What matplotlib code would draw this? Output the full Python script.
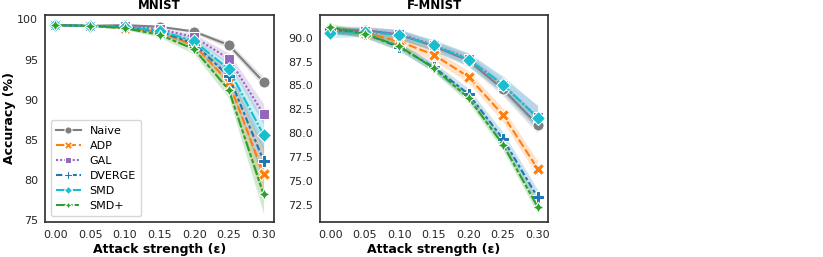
import numpy as np
import matplotlib.pyplot as plt

eps = [0.00, 0.05, 0.10, 0.15, 0.20, 0.25, 0.30]
methods = ['Naive', 'ADP', 'GAL', 'DVERGE', 'SMD', 'SMD+']

# MNIST mean accuracy (%) and CI half-width
mnist_naive = [99.3, 99.2, 99.3, 99.1, 98.5, 96.8, 92.2]
mnist_adp = [99.3, 99.2, 99.0, 98.4, 96.8, 92.2, 80.7]
mnist_gal = [99.3, 99.2, 99.2, 98.8, 97.8, 95.1, 88.2]
mnist_dverge = [99.3, 99.2, 99.1, 98.5, 97.0, 92.9, 82.4]
mnist_smd = [99.3, 99.2, 99.1, 98.6, 97.3, 93.8, 85.6]
mnist_smdp = [99.3, 99.2, 98.9, 98.1, 96.3, 91.2, 78.2]

mnist_naive_ci = [0.05, 0.05, 0.1, 0.1, 0.2, 0.4, 0.6]
mnist_adp_ci = [0.05, 0.1, 0.15, 0.2, 0.4, 1.2, 3.4]
mnist_gal_ci = [0.05, 0.05, 0.1, 0.2, 0.4, 0.7, 1.3]
mnist_dverge_ci = [0.05, 0.05, 0.1, 0.2, 0.4, 0.9, 2.5]
mnist_smd_ci = [0.05, 0.05, 0.1, 0.2, 0.4, 0.8, 2.0]
mnist_smdp_ci = [0.05, 0.05, 0.15, 0.3, 0.6, 1.0, 2.4]

# F-MNIST
fmnist_naive = [90.8, 90.8, 90.3, 89.1, 87.6, 84.6, 80.9]
fmnist_adp = [90.8, 90.5, 89.6, 88.2, 85.9, 81.9, 76.3]
fmnist_gal = [90.7, 90.7, 90.4, 89.2, 87.8, 85.0, 81.7]
fmnist_dverge = [90.9, 90.4, 89.0, 86.9, 84.1, 79.4, 73.3]
fmnist_smd = [90.5, 90.6, 90.3, 89.2, 87.7, 85.1, 81.6]
fmnist_smdp = [91.1, 90.4, 89.1, 86.8, 83.7, 78.8, 72.3]

fmnist_naive_ci = [0.4, 0.4, 0.5, 0.5, 0.6, 0.7, 0.9]
fmnist_adp_ci = [0.4, 0.4, 0.5, 0.6, 0.6, 0.7, 0.8]
fmnist_gal_ci = [0.4, 0.4, 0.5, 0.5, 0.6, 0.8, 1.2]
fmnist_dverge_ci = [0.4, 0.4, 0.4, 0.5, 0.6, 0.7, 0.8]
fmnist_smd_ci = [0.5, 0.5, 0.5, 0.6, 0.7, 0.9, 1.3]
fmnist_smdp_ci = [0.4, 0.4, 0.4, 0.4, 0.5, 0.6, 0.7]

colors = ['#7f7f7f', '#ff7f0e', '#9467bd', '#1f77b4', '#17becf', '#2ca02c']
markers = ['o', 'X', 's', 'P', 'D', (4, 1, 0)]
dashes = [(), (4, 1.5), (1, 1), (3, 1.25, 1.5, 1.25), (5, 1, 1, 1), (5, 1, 2, 1, 2, 1)]
msizes = [8, 8.5, 6.5, 9, 7, 8]

mnist = [(mnist_naive, mnist_naive_ci), (mnist_adp, mnist_adp_ci), (mnist_gal, mnist_gal_ci),
         (mnist_dverge, mnist_dverge_ci), (mnist_smd, mnist_smd_ci), (mnist_smdp, mnist_smdp_ci)]
fmnist = [(fmnist_naive, fmnist_naive_ci), (fmnist_adp, fmnist_adp_ci), (fmnist_gal, fmnist_gal_ci),
          (fmnist_dverge, fmnist_dverge_ci), (fmnist_smd, fmnist_smd_ci), (fmnist_smdp, fmnist_smdp_ci)]

plt.rcParams['font.family'] = 'DejaVu Sans'
fig = plt.figure(figsize=(8.23, 2.57), dpi=100)
ax1 = fig.add_axes([45 / 823, 35 / 257, 229 / 823, 207 / 257])
ax2 = fig.add_axes([320 / 823, 35 / 257, 228 / 823, 207 / 257])


def draw(ax, data, title):
    x = np.array(eps)
    for (m, ci), name, c, mk, d, ms in zip(data, methods, colors, markers, dashes, msizes):
        m = np.array(m)
        ci = np.array(ci)
        ax.fill_between(x, m - ci, m + ci, color=c, alpha=0.22, linewidth=0)
        line, = ax.plot(x, m, color=c, marker=mk, markersize=ms, markeredgecolor='white',
                        markeredgewidth=0.75, linewidth=1.5, label=name)
        if d:
            line.set_dashes(d)
    ax.set_xticks(eps)
    ax.set_xticklabels([f'{e:.2f}' for e in eps])
    ax.set_xlim(-0.015, 0.315)
    ax.tick_params(axis='x', length=0, labelsize=8, pad=6, colors='#262626')
    ax.tick_params(axis='y', length=0, labelsize=8, pad=5, colors='#262626')
    for s in ax.spines.values():
        s.set_color('#333333')
        s.set_linewidth(1.25)
    ax.set_title(title, fontsize=8.5, fontweight='bold', pad=4)
    ax.set_xlabel('Attack strength (\u03b5)', fontsize=9, fontweight='bold', labelpad=2)


draw(ax1, mnist, 'MNIST')
ax1.set_ylim(74.75, 100.56)
ax1.set_yticks([75, 80, 85, 90, 95, 100])
ax1.set_ylabel('Accuracy (%)', fontsize=9, fontweight='bold', labelpad=1)
ax1.legend(loc='lower left', fontsize=8, frameon=True, edgecolor='#cccccc',
           handlelength=2.2, borderpad=0.5, labelspacing=0.45, markerscale=0.65)

draw(ax2, fmnist, 'F-MNIST')
ax2.set_ylim(70.72, 92.37)
ax2.set_yticks([72.5, 75.0, 77.5, 80.0, 82.5, 85.0, 87.5, 90.0])
ax2.set_yticklabels(['72.5', '75.0', '77.5', '80.0', '82.5', '85.0', '87.5', '90.0'])

fig.savefig('out.png', dpi=100)
